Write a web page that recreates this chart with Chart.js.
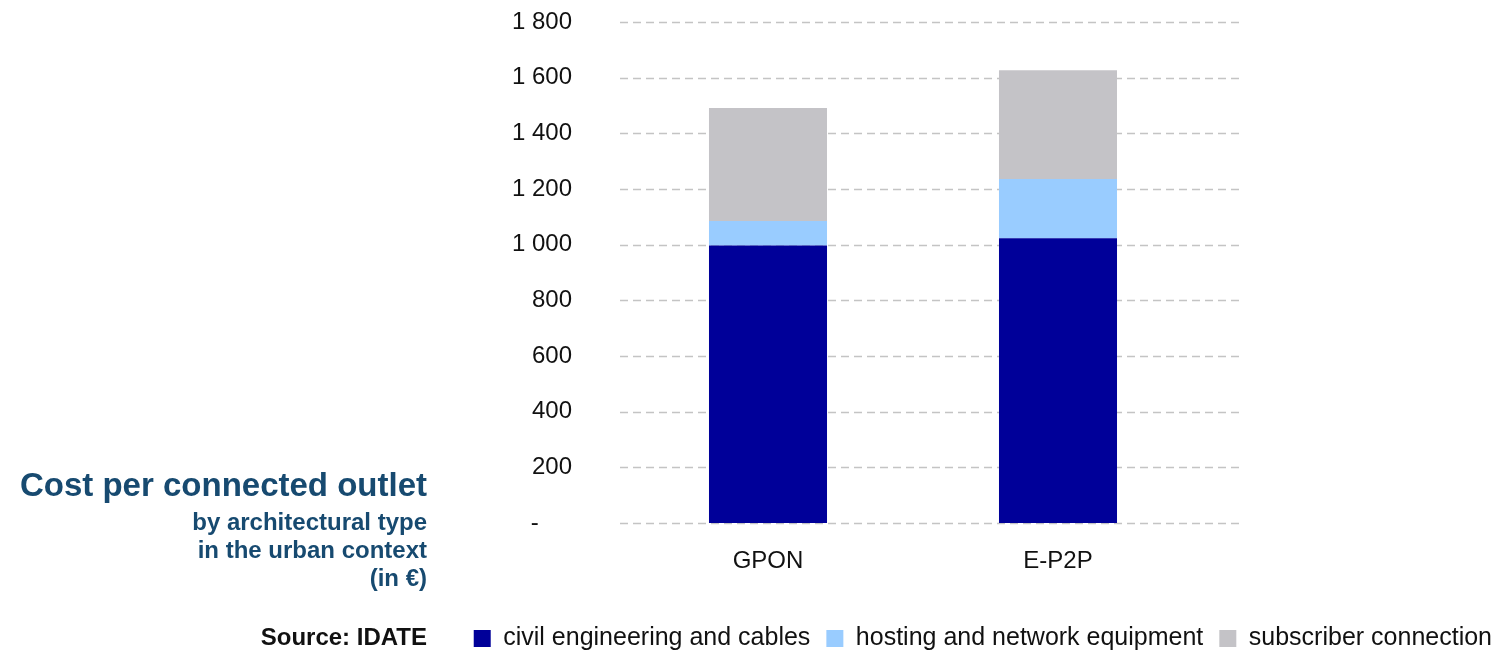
<!DOCTYPE html>
<html lang="en">
  <head>
    <meta charset="UTF-8" />
    <title>Cost per connected outlet</title>
    <style>
      body { margin: 0; background: #fff; }
      .wrap { position: relative; width: 1508px; height: 650px; }
      canvas { position: absolute; left: 0; top: 0; }
      .side {
        position: absolute;
        right: 1081px;
        text-align: right;
        font-family: "Liberation Sans", Arial, sans-serif;
        font-weight: bold;
        white-space: nowrap;
        color: #174a70;
      }
      #title { top: 466px; font-size: 33px; line-height: 38px; }
      #sub { top: 508px; font-size: 24px; line-height: 28px; }
      #source { top: 623px; font-size: 24px; line-height: 28px; color: #111; }
    </style>
  </head>
  <body>
    <div class="wrap">
      <canvas id="myChart" width="1508" height="650"></canvas>
      <div class="side" id="title">Cost per connected outlet</div>
      <div class="side" id="sub">by architectural type<br />in the urban context<br />(in €)</div>
      <div class="side" id="source">Source: IDATE</div>
    </div>

    <script src="https://cdn.jsdelivr.net/npm/chart.js@4.4.1/dist/chart.umd.min.js"></script>
    <script>
      const categories = ["GPON", "E-P2P"];
      const civilEngineering = [997, 1023];
      const hostingEquipment = [88, 213];
      const subscriberConnection = [406, 391];
      const seriesNames = [
        "civil engineering and cables",
        "hosting and network equipment",
        "subscriber connection",
      ];
      const yTicks = [0, 200, 400, 600, 800, 1000, 1200, 1400, 1600, 1800];

      const font = "'Liberation Sans', Arial, sans-serif";

      // "1 800" style, and a dash for zero
      function formatTick(v) {
        if (v === 0) return "-     ";
        if (v < 1000) return String(v);
        return Math.floor(v / 1000) + " " + String(v % 1000).padStart(3, "0");
      }

      // dashed gridlines, running a bit past the plot on the right
      const dashedGrid = {
        id: "dashedGrid",
        beforeDatasetsDraw(chart) {
          const { ctx, chartArea, scales } = chart;
          ctx.save();
          ctx.strokeStyle = "#c4c4c4";
          ctx.lineWidth = 1.5;
          ctx.setLineDash([8, 5]);
          yTicks.forEach((t) => {
            const y = Math.round(scales.y.getPixelForValue(t)) + 0.5;
            ctx.beginPath();
            ctx.moveTo(chartArea.left - 3, y);
            ctx.lineTo(chartArea.right + 39, y);
            ctx.stroke();
          });
          ctx.restore();
        },
      };

      const ctx = document.getElementById("myChart").getContext("2d");
      new Chart(ctx, {
        type: "bar",
        data: {
          labels: categories,
          datasets: [
            { label: seriesNames[0], data: civilEngineering, backgroundColor: "#000099" },
            { label: seriesNames[1], data: hostingEquipment, backgroundColor: "#99ccff" },
            { label: seriesNames[2], data: subscriberConnection, backgroundColor: "#c4c3c7" },
          ],
        },
        options: {
          responsive: false,
          animation: false,
          layout: { padding: { top: 22, bottom: -11, left: 0, right: 0 } },
          datasets: {
            bar: { categoryPercentage: 1, barPercentage: 0.407 },
          },
          scales: {
            x: {
              stacked: true,
              grid: { display: false, drawTicks: false },
              border: { display: false },
              ticks: { color: "#111", font: { family: font, size: 24 }, padding: 24 },
              afterFit: (scale) => { scale.height = 87; },
            },
            y: {
              stacked: true,
              min: 0,
              max: 1800,
              afterBuildTicks: (scale) => {
                scale.ticks = yTicks.map((v) => ({ value: v }));
              },
              // tick marks hidden; their length just sets the label gap
              grid: { display: false, drawTicks: true, tickLength: 51 },
              border: { display: false },
              ticks: {
                color: "#111",
                font: { family: font, size: 24 },
                padding: 0,
                callback: (v) => formatTick(v),
              },
              afterFit: (scale) => { scale.width = 623; },
            },
            right: {
              position: "right",
              display: true,
              grid: { display: false, drawTicks: false },
              border: { display: false },
              ticks: { display: false },
              afterFit: (scale) => { scale.width = 305; },
            },
          },
          plugins: {
            tooltip: { enabled: false },
            legend: {
              position: "bottom",
              align: "end",
              labels: {
                color: "#111",
                font: { family: font, size: 25 },
                boxWidth: 17,
                boxHeight: 17,
                padding: 16,
              },
            },
          },
        },
        plugins: [dashedGrid],
      });
    </script>
  </body>
</html>
